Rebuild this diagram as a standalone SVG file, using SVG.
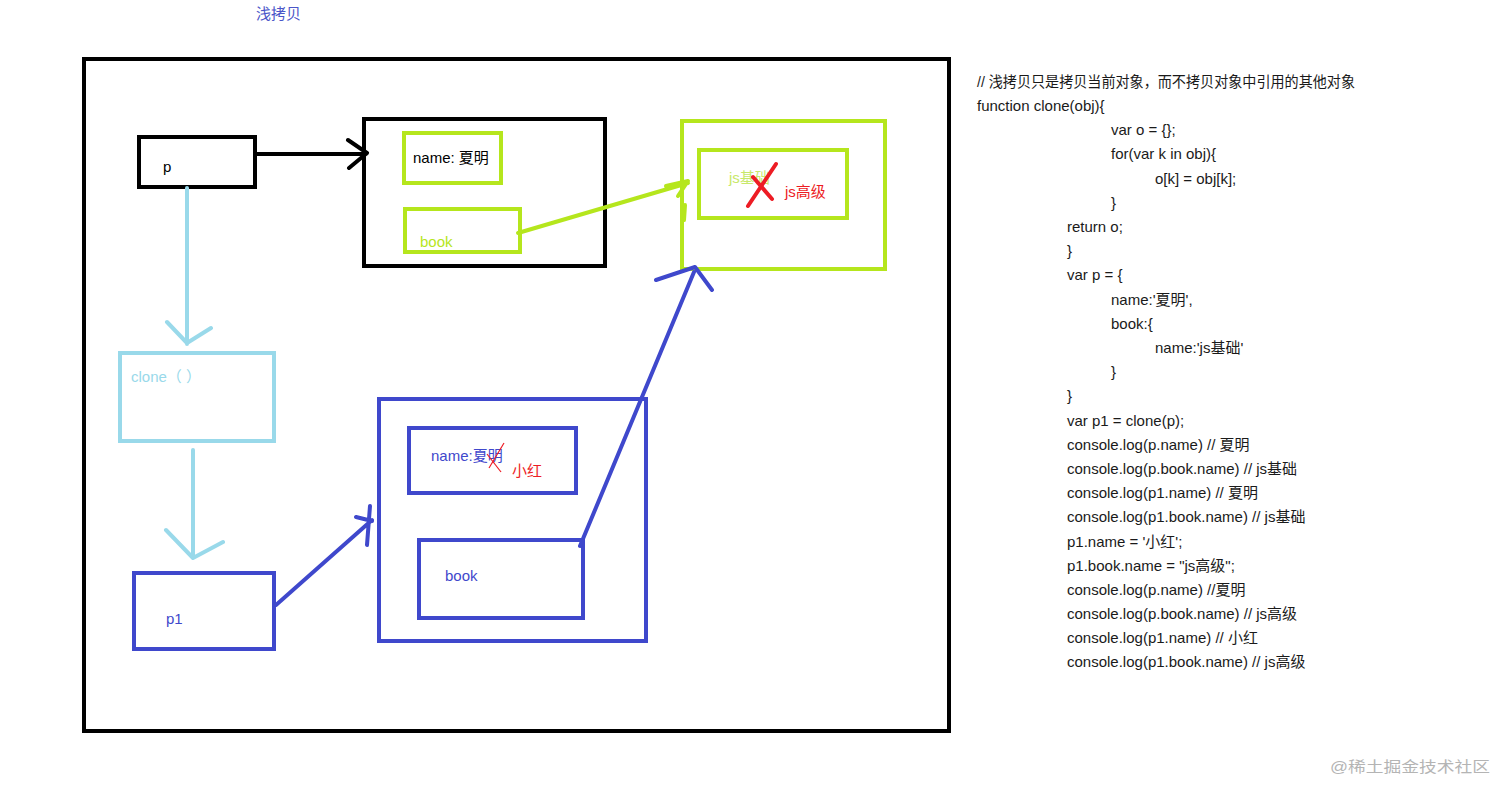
<svg xmlns="http://www.w3.org/2000/svg" width="1512" height="797" viewBox="0 0 1512 797">
<style>
text{font-family:"Liberation Sans","Noto Sans CJK SC",sans-serif;font-size:15px}
.k{fill:none;stroke:#000;stroke-width:4}
.g{fill:none;stroke:#b5e61d;stroke-width:4}
.b{fill:none;stroke:#3f48cc;stroke-width:4}
.c{fill:none;stroke:#99d9ea;stroke-width:4}
.r{fill:none;stroke:#ed1c24;stroke-width:4;stroke-linecap:round}
.rt{fill:none;stroke:#ed1c24;stroke-width:1.2}
.code{fill:#1a1a1a;font-size:15px}
.ln{stroke-linecap:round;stroke-linejoin:round}
</style>
<rect width="1512" height="797" fill="#fff"/>
<text x="256" y="19" fill="#4a55c8" font-size="15">浅拷贝</text>
<g id="frame"><rect class="k" x="84" y="59" width="865" height="672"/></g>
<g id="node-p"><rect class="k" x="139" y="137" width="116" height="50"/><text x="163" y="172" fill="#000">p</text></g>
<g id="node-obj"><rect class="k" x="364" y="119" width="241" height="147"/>
<rect class="g" x="404" y="133" width="97" height="50"/><text x="413" y="163" fill="#000">name: 夏明</text>
<rect class="g" x="405" y="209" width="115" height="43"/><text x="420" y="247" fill="#b5e61d">book</text></g>
<g id="node-book"><rect class="g" x="682" y="121" width="203" height="148"/>
<rect class="g" x="699" y="150" width="148" height="68"/>
<text x="729" y="183" fill="#c8e86a">js基础</text>
<line class="r" x1="748" y1="206" x2="776" y2="164"/><line class="r" x1="753" y1="177" x2="772" y2="199"/>
<text x="785" y="197" fill="#ed1c24">js高级</text></g>
<g id="node-clone"><rect class="c" x="120" y="353" width="154" height="88"/><text x="131" y="382" fill="#99d9ea">clone（ ）</text></g>
<g id="node-p1"><rect class="b" x="134" y="573" width="140" height="76"/><text x="166" y="624" fill="#3f48cc">p1</text></g>
<g id="node-obj1"><rect class="b" x="379" y="399" width="267" height="242"/>
<rect class="b" x="409" y="428" width="167" height="65"/><text x="431" y="461" fill="#3f48cc">name:夏明</text>
<line class="rt" x1="489" y1="468" x2="504" y2="443"/><line class="rt" x1="487" y1="454" x2="501" y2="472"/>
<text x="512" y="476" fill="#ed1c24">小红</text>
<rect class="b" x="419" y="540" width="164" height="78"/><text x="445" y="581" fill="#3f48cc">book</text></g>
<g id="connectors" class="ln">
<path class="k" d="M255 154 H366 M348 140 L367 153 L349 168"/>
<path class="g" d="M518 233 L688 183 M666 186 L688 181 L678 196 M685 205 L684 220"/>
<path class="c" d="M187 188 V344 M167 322 L187 343 L211 328"/>
<path class="c" d="M193 450 V557 M166 530 L193 558 L223 542"/>
<path class="b" d="M276 605 L372 520 M356 517 L372 521 M370 506 L367 545"/>
<path class="b" d="M580 546 L694 272 M656 280 L695 267 L712 290"/>
</g>
<g id="code" class="code">
<text x="977" y="87" font-size="14" textLength="378" lengthAdjust="spacingAndGlyphs">// 浅拷贝只是拷贝当前对象，而不拷贝对象中引用的其他对象</text>
<text x="977" y="111">function clone(obj){</text>
<text x="1111" y="135">var o = {};</text>
<text x="1111" y="159">for(var k in obj){</text>
<text x="1155" y="184">o[k] = obj[k];</text>
<text x="1111" y="208">}</text>
<text x="1067" y="232">return o;</text>
<text x="1067" y="256">}</text>
<text x="1067" y="280">var p = {</text>
<text x="1111" y="305">name:'夏明',</text>
<text x="1111" y="329">book:{</text>
<text x="1155" y="353">name:'js基础'</text>
<text x="1111" y="377">}</text>
<text x="1067" y="401">}</text>
<text x="1067" y="426">var p1 = clone(p);</text>
<text x="1067" y="450">console.log(p.name) // 夏明</text>
<text x="1067" y="474">console.log(p.book.name) // js基础</text>
<text x="1067" y="498">console.log(p1.name) // 夏明</text>
<text x="1067" y="522">console.log(p1.book.name) // js基础</text>
<text x="1067" y="547">p1.name = '小红';</text>
<text x="1067" y="571">p1.book.name = "js高级";</text>
<text x="1067" y="595">console.log(p.name) //夏明</text>
<text x="1067" y="619">console.log(p.book.name) // js高级</text>
<text x="1067" y="643">console.log(p1.name) // 小红</text>
<text x="1067" y="667">console.log(p1.book.name) // js高级</text>
</g>
<text x="1330" y="772" fill="#b4b4b4" font-size="19" textLength="160" lengthAdjust="spacingAndGlyphs">@稀土掘金技术社区</text>
</svg>
